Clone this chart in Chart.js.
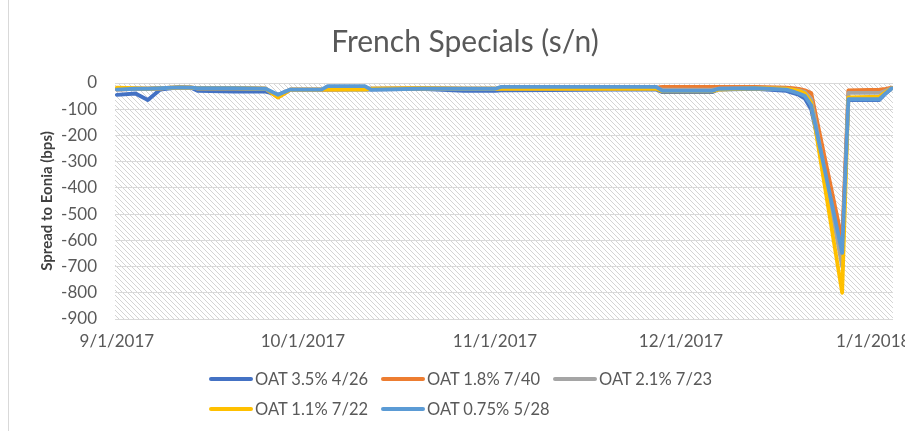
<!DOCTYPE html>
<html><head><meta charset="utf-8">
<script src="https://cdn.jsdelivr.net/npm/chart.js@4/dist/chart.umd.min.js"></script>
<style>
html,body{margin:0;padding:0;background:#fff;overflow:hidden;width:905px;height:431px;}
#wrap{position:relative;width:930px;height:431px;}
#c{position:absolute;left:0;top:0;}
#frame{position:absolute;left:8px;top:0;width:1px;height:431px;background:#d9d9d9}
.leg{position:absolute;font-family:Lato,sans-serif;font-size:16.5px;color:#595959;display:flex;align-items:center;white-space:nowrap;height:20px;line-height:20px}
.leg i{display:inline-block;width:44px;height:4px;border-radius:2px;margin-right:2px}
</style></head>
<body>
<div id="wrap"><div id="frame"></div><canvas id="c" width="930" height="431"></canvas><div id="legend"></div></div>
<script>
const chartTitle = 'French Specials (s/n)';
const yAxisTitle = 'Spread to Eonia (bps)';
const seriesNames = ['OAT 3.5% 4/26','OAT 1.8% 7/40','OAT 2.1% 7/23','OAT 1.1% 7/22','OAT 0.75% 5/28'];
const seriesColors = ['#4472C4','#ED7D31','#A5A5A5','#FFC000','#5B9BD5'];
const tickDates = ['2017-09-01','2017-10-01','2017-11-01','2017-12-01','2018-01-01'];
const tickLabels = ['9/1/2017','10/1/2017','11/1/2017','12/1/2017','1/1/2018'];
const dates = ['2017-09-01','2017-09-04','2017-09-06','2017-09-08','2017-09-11','2017-09-13','2017-09-14','2017-09-20','2017-09-25','2017-09-27','2017-09-29','2017-10-04','2017-10-05','2017-10-11','2017-10-12','2017-10-20','2017-10-27','2017-11-01','2017-11-02','2017-11-10','2017-11-20','2017-11-27','2017-11-28','2017-12-06','2017-12-07','2017-12-13','2017-12-18','2017-12-19','2017-12-20','2017-12-21','2017-12-22','2017-12-27','2017-12-28','2018-01-02','2018-01-03','2018-01-04'];
const oat35_0426 = [-45,-40,-65,-25,-17,-18,-30,-33,-33,-45,-25,-25,-25,-25,-25,-22,-30,-30,-28,-27,-25,-25,-35,-35,-25,-22,-30,-38,-45,-60,-100,-630,-65,-65,-40,-20];
const oat18_0740 = [-25,-22,-22,-20,-17,-18,-20,-20,-22,-55,-25,-25,-25,-22,-22,-20,-22,-22,-20,-20,-20,-18,-15,-15,-15,-15,-18,-20,-22,-28,-38,-600,-28,-25,-22,-18];
const oat21_0723 = [-22,-22,-22,-20,-17,-18,-20,-20,-22,-50,-25,-25,-25,-22,-22,-20,-22,-22,-20,-20,-20,-20,-25,-25,-22,-20,-22,-25,-28,-35,-60,-700,-38,-38,-30,-20];
const oat11_0722 = [-18,-20,-22,-20,-17,-18,-20,-20,-22,-55,-25,-25,-25,-25,-22,-20,-22,-22,-22,-22,-22,-22,-32,-32,-25,-20,-22,-25,-30,-40,-75,-800,-55,-52,-35,-20];
const oat075_0528 = [-25,-22,-22,-20,-17,-18,-20,-20,-22,-45,-25,-25,-12,-12,-25,-22,-22,-22,-15,-15,-15,-15,-30,-30,-22,-20,-25,-32,-40,-50,-85,-648,-62,-62,-40,-20];
const yTicks = [0,-100,-200,-300,-400,-500,-600,-700,-800,-900];

const series = [oat35_0426, oat18_0740, oat21_0723, oat11_0722, oat075_0528];
const base = Date.UTC(2017,8,1);
function dayOf(s){const p=s.split('-').map(Number);return (Date.UTC(p[0],p[1]-1,p[2])-base)/86400000;}
const xDays = dates.map(dayOf);
const tickDays = tickDates.map(dayOf);

const FONT = 'Lato, sans-serif';
const pc = document.createElement('canvas'); pc.width = 5; pc.height = 5;
const px = pc.getContext('2d');
px.fillStyle = '#ffffff'; px.fillRect(0,0,5,5);
px.strokeStyle = '#d4d4d4'; px.lineWidth = 1;
px.beginPath(); px.moveTo(-1,-1); px.lineTo(6,6); px.moveTo(-1,4); px.lineTo(1,6); px.moveTo(4,-1); px.lineTo(6,1); px.stroke();

const hatchPlugin = {
  id:'hatch',
  beforeDraw(chart){
    const {ctx, chartArea:a} = chart;
    ctx.save();
    ctx.fillStyle = ctx.createPattern(pc,'repeat');
    ctx.fillRect(a.left, a.top, a.right-a.left, a.bottom-a.top);
    ctx.restore();
  }
};

const chart = new Chart(document.getElementById('c'), {
  type:'line',
  data:{
    datasets: series.map((vals,i)=>({
      label: seriesNames[i],
      data: vals.map((v,j)=>({x:xDays[j], y:v})),
      borderColor: seriesColors[i],
      backgroundColor: seriesColors[i],
      borderWidth: 3.8,
      pointRadius: 0,
      tension: 0,
      borderJoinStyle:'round',
      borderCapStyle:'round',
      order: series.length - i
    }))
  },
  options:{
    responsive:false,
    animation:false,
    events:[],
    layout:{padding:{left:37,right:37,top:0,bottom:0}},
    plugins:{
      legend:{display:false},
      tooltip:{enabled:false},
      title:{display:true,text:chartTitle,color:'#595959',font:{family:FONT,size:30,weight:'normal',lineHeight:1.2},padding:{top:24,bottom:23}}
    },
    scales:{
      x:{
        type:'linear', min:-0.3, max:125.2,
        grid:{display:false, drawTicks:false},
        border:{display:false},
        afterBuildTicks(s){ s.ticks = tickDays.map(v=>({value:v})); },
        afterFit(s){ s.height = 112; },
        ticks:{autoSkip:false,maxRotation:0,padding:12,color:'#595959',font:{family:FONT,size:17},
          callback(v){ const k = tickDays.indexOf(v); return k>=0 ? tickLabels[k] : ''; }}
      },
      y:{
        min:-900, max:0,
        afterBuildTicks(s){ s.ticks = yTicks.map(v=>({value:v})); },
        afterFit(s){ s.width = 78; },
        grid:{color:'#d9d9d9', lineWidth:1, drawTicks:false},
        border:{display:false},
        ticks:{padding:18,color:'#595959',font:{family:FONT,size:17}},
        title:{display:true,text:yAxisTitle,color:'#404040',font:{family:FONT,size:15,weight:'bold'},padding:{top:1,bottom:0}}
      }
    }
  },
  plugins:[hatchPlugin]
});

const cols = [209, 381, 553];
const rows = [379, 409];
const lg = document.getElementById('legend');
chart.data.datasets.forEach((d,i)=>{
  const el = document.createElement('div');
  el.className = 'leg';
  el.style.left = cols[i%3] + 'px';
  el.style.top = (rows[Math.floor(i/3)] - 10) + 'px';
  el.innerHTML = '<i style="background:'+d.borderColor+'"></i>';
  el.appendChild(document.createTextNode(d.label));
  lg.appendChild(el);
});
</script>
</body></html>
